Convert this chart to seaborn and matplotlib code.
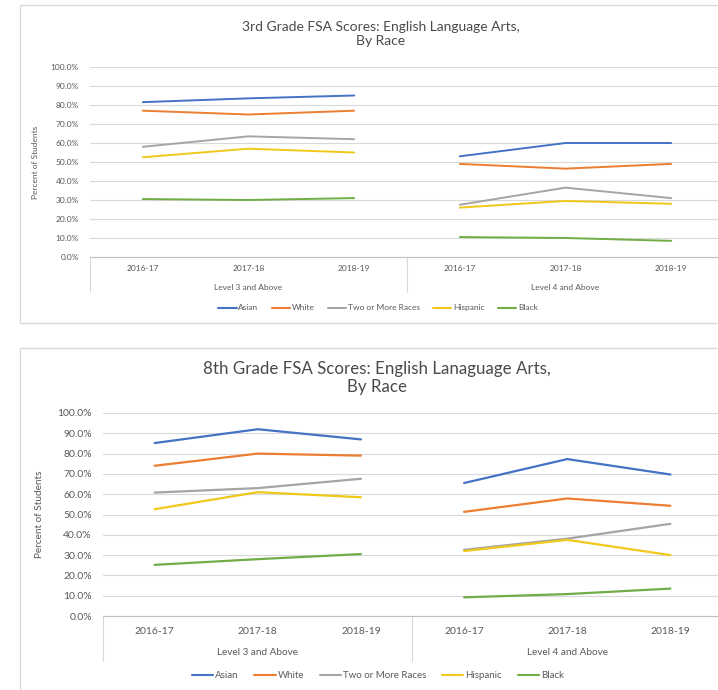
import numpy as np
import pandas as pd
import matplotlib
matplotlib.use("Agg")
import matplotlib.pyplot as plt
from matplotlib.lines import Line2D
from matplotlib.patches import Rectangle
import seaborn as sns

# Categories
years = ["2016-17", "2017-18", "2018-19"]
levels = ["Level 3 and Above", "Level 4 and Above"]
races = ["Asian", "White", "Two or More Races", "Hispanic", "Black"]

# 3rd grade ELA, percent of students (Level 3+ then Level 4+, three years each)
g3_asian = [81.5, 83.5, 85.0, 53.0, 60.0, 60.0]
g3_white = [77.0, 75.0, 77.0, 49.0, 46.5, 49.0]
g3_multi = [58.0, 63.5, 62.0, 27.5, 36.5, 31.0]
g3_hispanic = [52.5, 57.0, 55.0, 26.0, 29.5, 28.0]
g3_black = [30.5, 30.0, 31.0, 10.5, 10.0, 8.5]

# 8th grade ELA, percent of students
g8_asian = [85.2, 92.0, 87.0, 65.5, 77.3, 69.7]
g8_white = [74.0, 80.0, 79.0, 51.3, 57.9, 54.3]
g8_multi = [60.8, 63.0, 67.6, 32.6, 38.1, 45.4]
g8_hispanic = [52.6, 61.0, 58.5, 32.0, 37.5, 30.0]
g8_black = [25.2, 28.0, 30.5, 9.2, 10.8, 13.5]

title_3 = "3rd Grade FSA Scores: English Language Arts,\nBy Race"
title_8 = "8th Grade FSA Scores: English Lanaguage Arts,\nBy Race"
y_label = "Percent of Students"

palette = {
    "Asian": "#4472C4",
    "White": "#ED7D31",
    "Two or More Races": "#A5A5A5",
    "Hispanic": "#F0C81A",
    "Black": "#70AD47",
}

TXT = "#595959"
TITLE = "#4A4A4A"
GRID = "#D9D9D9"
AXIS = "#BFBFBF"


def long_frame(series):
    rows = []
    for race, vals in zip(races, series):
        for i, v in enumerate(vals):
            rows.append({
                "race": race,
                "level": levels[i // 3],
                "pos": i,
                "pct": v,
            })
    return pd.DataFrame(rows)


df3 = long_frame([g3_asian, g3_white, g3_multi, g3_hispanic, g3_black])
df8 = long_frame([g8_asian, g8_white, g8_multi, g8_hispanic, g8_black])

sns.set_theme(style="white")
plt.rcParams["font.family"] = ["Lato", "DejaVu Sans"]

W, H = 718, 690
fig = plt.figure(figsize=(W / 100, H / 100), dpi=100)


def px_axes(left, right, top, bottom):
    return fig.add_axes([left / W, 1 - bottom / H, (right - left) / W, (bottom - top) / H])


def draw_chart(ax, df, lw, tick_fs, group_fs, ylab_fs, ylab_x, tick_pad, ytick_pad,
               group_drop, div_drop):
    sns.lineplot(data=df, x="pos", y="pct", hue="race", units="level",
                 estimator=None, palette=palette, hue_order=races,
                 linewidth=lw, legend=False, ax=ax, sort=True)
    ax.set_xlim(-0.5, 5.5)
    ax.set_ylim(0, 100)
    ax.set_yticks(np.arange(0, 101, 10))
    ax.set_yticklabels([f"{v:.1f}%" for v in np.arange(0, 101, 10)],
                       fontsize=tick_fs, color=TXT)
    ax.yaxis.grid(True, color=GRID, linewidth=0.8)
    ax.set_axisbelow(True)
    for s in ["top", "right", "left"]:
        ax.spines[s].set_visible(False)
    ax.spines["bottom"].set_color(AXIS)
    ax.spines["bottom"].set_linewidth(0.8)
    ax.tick_params(axis="y", length=0, pad=ytick_pad)
    ax.set_xticks(range(6))
    ax.set_xticklabels(years * 2, fontsize=tick_fs, color=TXT)
    ax.tick_params(axis="x", length=0, pad=tick_pad)
    ax.set_xlabel("")
    ax.set_ylabel(y_label, fontsize=ylab_fs, color=TXT)
    ax.yaxis.set_label_coords(ylab_x, 0.5)
    trans = ax.get_xaxis_transform()
    for gx, lab in zip([1, 4], levels):
        ax.text(gx, -group_drop, lab, transform=trans, ha="center", va="center",
                fontsize=group_fs, color=TXT, clip_on=False)
    for dx in [-0.5, 2.5]:
        ax.plot([dx, dx], [0, -div_drop], transform=trans, color=GRID,
                linewidth=0.8, clip_on=False)


def frame(left, top, bottom):
    fig.patches.append(Rectangle((left / W, 1 - bottom / H), (W + 10 - left) / W,
                                 (bottom - top) / H, transform=fig.transFigure,
                                 fill=False, edgecolor=GRID, linewidth=1.0))


def legend(y, fs, handlelen):
    handles = [Line2D([], [], color=palette[r], linewidth=1.5) for r in races]
    fig.legend(handles, races, loc="center", bbox_to_anchor=(378 / W, 1 - y / H),
               ncol=5, frameon=False, fontsize=fs, handlelength=handlelen,
               handletextpad=0.2, columnspacing=1.6, labelcolor=TXT)


# Chart frames
frame(20, 5, 323)
frame(20, 348, 700)

# 3rd grade chart
ax1 = px_axes(90, 724, 67, 257)
draw_chart(ax1, df3, lw=1.4, tick_fs=6, group_fs=6, ylab_fs=6,
           ylab_x=-0.08, tick_pad=6, ytick_pad=8, group_drop=0.16, div_drop=0.185)
fig.text(381 / W, 1 - 34 / H, title_3, ha="center", va="center",
         fontsize=10, color=TITLE, linespacing=1.25)
legend(308, 6, 2.2)

# 8th grade chart
ax2 = px_axes(103, 722, 413, 616)
draw_chart(ax2, df8, lw=1.6, tick_fs=7.5, group_fs=7.2, ylab_fs=7.2,
           ylab_x=-0.095, tick_pad=8, ytick_pad=8, group_drop=0.18, div_drop=0.22)
fig.text(377 / W, 1 - 378 / H, title_8, ha="center", va="center",
         fontsize=12.2, color=TITLE, linespacing=1.2)
legend(676, 7, 2.2)

fig.savefig("out.png", dpi=100, facecolor="white")
